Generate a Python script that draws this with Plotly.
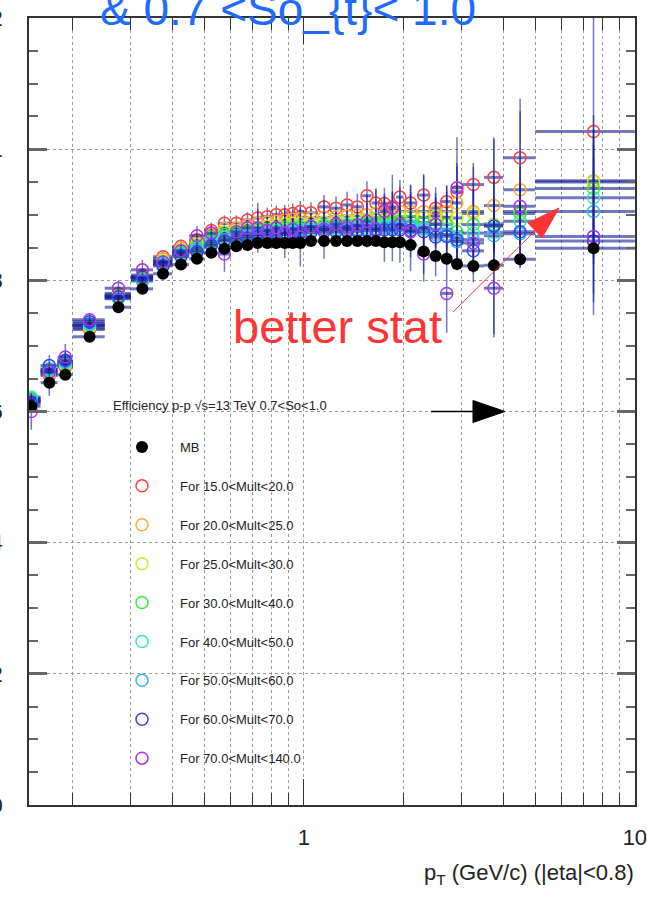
import plotly.graph_objects as go

# ---------------- data ----------------
pt_edges = [0.14, 0.16, 0.18, 0.20, 0.25, 0.30, 0.35, 0.40, 0.45, 0.50, 0.55, 0.60, 0.65,
            0.70, 0.75, 0.80, 0.85, 0.90, 0.95, 1.0, 1.1, 1.2, 1.3, 1.4, 1.5, 1.6, 1.7,
            1.8, 1.9, 2.0, 2.2, 2.4, 2.6, 2.8, 3.0, 3.5, 4.0, 5.0, 10.0]
x_tick_vals = [1, 10]
x_tick_text = ["1", "10"]

eff_mb = [0.608, 0.644, 0.656, 0.714, 0.759, 0.787, 0.810, 0.824, 0.833, 0.842, 0.848, 0.852,
          0.854, 0.857, 0.857, 0.857, 0.857, 0.857, 0.857, 0.860, 0.860, 0.860, 0.860, 0.860,
          0.860, 0.860, 0.858, 0.858, 0.858, 0.854, 0.844, 0.837, 0.833, 0.825, 0.822, 0.823,
          0.832, 0.849]
err_mb = [0.004, 0.004, 0.004, 0.003, 0.003, 0.003, 0.003, 0.003, 0.003, 0.003, 0.003, 0.003,
          0.003, 0.003, 0.003, 0.003, 0.003, 0.003, 0.003, 0.004, 0.004, 0.004, 0.004, 0.005,
          0.005, 0.005, 0.006, 0.006, 0.006, 0.006, 0.007, 0.008, 0.009, 0.010, 0.008, 0.010,
          0.012, 0.015]

eff_m15_20 = [0.615, 0.655, 0.668, 0.725, 0.780, 0.808, 0.836, 0.852, 0.862, 0.876, 0.887, 0.887,
              0.892, 0.895, 0.897, 0.900, 0.900, 0.902, 0.905, 0.903, 0.912, 0.910, 0.915, 0.912,
              0.929, 0.918, 0.917, 0.912, 0.927, 0.918, 0.930, 0.910, 0.920, 0.935, 0.946, 0.957,
              0.987, 1.027]
err_m15_20 = [0.010, 0.031, 0.010, 0.008, 0.008, 0.008, 0.008, 0.010, 0.010, 0.012, 0.012, 0.012,
              0.012, 0.014, 0.014, 0.014, 0.015, 0.015, 0.016, 0.016, 0.018, 0.018, 0.020, 0.020,
              0.022, 0.022, 0.024, 0.024, 0.026, 0.028, 0.030, 0.032, 0.024, 0.038, 0.033, 0.058,
              0.090, 0.280]

eff_m20_25 = [0.615, 0.657, 0.670, 0.727, 0.778, 0.806, 0.833, 0.849, 0.858, 0.870, 0.879, 0.880,
              0.884, 0.887, 0.889, 0.890, 0.892, 0.893, 0.894, 0.895, 0.896, 0.897, 0.898, 0.899,
              0.900, 0.902, 0.903, 0.901, 0.905, 0.905, 0.905, 0.905, 0.905, 0.918, 0.905, 0.914,
              0.938, 0.952]
err_m20_25 = [0.006, 0.006, 0.006, 0.006, 0.006, 0.006, 0.008, 0.008, 0.008, 0.010, 0.010, 0.010,
              0.010, 0.012, 0.012, 0.012, 0.012, 0.013, 0.013, 0.014, 0.015, 0.015, 0.016, 0.017,
              0.018, 0.037, 0.020, 0.020, 0.022, 0.024, 0.026, 0.028, 0.030, 0.100, 0.035, 0.040,
              0.120, 0.100]

eff_m25_30 = [0.618, 0.660, 0.672, 0.730, 0.776, 0.804, 0.830, 0.846, 0.855, 0.866, 0.874, 0.876,
              0.878, 0.881, 0.883, 0.884, 0.886, 0.887, 0.887, 0.888, 0.889, 0.890, 0.891, 0.892,
              0.893, 0.894, 0.895, 0.895, 0.896, 0.897, 0.896, 0.898, 0.896, 0.895, 0.902, 0.886,
              0.905, 0.950]
err_m25_30 = [0.006, 0.006, 0.006, 0.006, 0.006, 0.006, 0.008, 0.008, 0.008, 0.010, 0.010, 0.010,
              0.010, 0.012, 0.012, 0.012, 0.012, 0.013, 0.013, 0.014, 0.015, 0.015, 0.016, 0.017,
              0.018, 0.019, 0.020, 0.066, 0.022, 0.024, 0.026, 0.028, 0.030, 0.032, 0.035, 0.040,
              0.045, 0.080]

eff_m30_40 = [0.620, 0.664, 0.675, 0.732, 0.775, 0.803, 0.828, 0.843, 0.852, 0.862, 0.870, 0.872,
              0.874, 0.877, 0.878, 0.879, 0.881, 0.881, 0.882, 0.883, 0.884, 0.885, 0.885, 0.886,
              0.887, 0.888, 0.889, 0.888, 0.890, 0.890, 0.888, 0.886, 0.885, 0.874, 0.885, 0.883,
              0.902, 0.940]
err_m30_40 = [0.006, 0.006, 0.006, 0.006, 0.006, 0.006, 0.008, 0.008, 0.008, 0.010, 0.010, 0.010,
              0.010, 0.012, 0.012, 0.012, 0.012, 0.013, 0.013, 0.014, 0.015, 0.015, 0.016, 0.017,
              0.018, 0.019, 0.020, 0.020, 0.022, 0.055, 0.026, 0.028, 0.060, 0.032, 0.088, 0.040,
              0.045, 0.080]

eff_m40_50 = [0.622, 0.662, 0.673, 0.731, 0.773, 0.801, 0.826, 0.841, 0.849, 0.859, 0.866, 0.868,
              0.870, 0.873, 0.874, 0.876, 0.877, 0.878, 0.878, 0.879, 0.880, 0.880, 0.881, 0.882,
              0.882, 0.883, 0.883, 0.884, 0.884, 0.884, 0.880, 0.878, 0.878, 0.866, 0.872, 0.873,
              0.890, 0.926]
err_m40_50 = [0.006, 0.006, 0.006, 0.006, 0.006, 0.006, 0.008, 0.008, 0.008, 0.010, 0.010, 0.010,
              0.010, 0.012, 0.012, 0.012, 0.012, 0.013, 0.013, 0.014, 0.015, 0.015, 0.016, 0.017,
              0.018, 0.019, 0.020, 0.020, 0.022, 0.024, 0.082, 0.028, 0.030, 0.032, 0.035, 0.040,
              0.045, 0.080]

eff_m50_60 = [0.618, 0.665, 0.676, 0.734, 0.772, 0.799, 0.824, 0.839, 0.846, 0.856, 0.862, 0.865,
              0.867, 0.870, 0.871, 0.872, 0.873, 0.874, 0.875, 0.876, 0.877, 0.877, 0.878, 0.878,
              0.879, 0.879, 0.880, 0.880, 0.880, 0.880, 0.878, 0.870, 0.870, 0.859, 0.862, 0.868,
              0.871, 0.905]
err_m50_60 = [0.006, 0.006, 0.006, 0.006, 0.006, 0.006, 0.008, 0.008, 0.008, 0.010, 0.010, 0.010,
              0.010, 0.012, 0.012, 0.012, 0.012, 0.013, 0.013, 0.014, 0.015, 0.015, 0.016, 0.017,
              0.018, 0.019, 0.052, 0.020, 0.022, 0.024, 0.026, 0.028, 0.030, 0.032, 0.035, 0.150,
              0.045, 0.080]

eff_m60_70 = [0.612, 0.670, 0.678, 0.737, 0.775, 0.805, 0.822, 0.836, 0.843, 0.853, 0.860, 0.862,
              0.864, 0.867, 0.868, 0.869, 0.870, 0.871, 0.872, 0.873, 0.874, 0.874, 0.875, 0.875,
              0.876, 0.876, 0.877, 0.877, 0.877, 0.876, 0.874, 0.866, 0.867, 0.862, 0.845, 0.883,
              0.874, 0.860]
err_m60_70 = [0.006, 0.006, 0.025, 0.006, 0.006, 0.006, 0.008, 0.008, 0.008, 0.010, 0.010, 0.010,
              0.010, 0.012, 0.012, 0.012, 0.012, 0.013, 0.013, 0.014, 0.015, 0.015, 0.016, 0.017,
              0.018, 0.019, 0.020, 0.020, 0.022, 0.024, 0.026, 0.060, 0.030, 0.032, 0.035, 0.040,
              0.045, 0.080]

eff_m70_140 = [0.600, 0.660, 0.683, 0.740, 0.788, 0.816, 0.828, 0.845, 0.868, 0.872, 0.840, 0.874,
               0.880, 0.880, 0.876, 0.880, 0.872, 0.878, 0.866, 0.882, 0.878, 0.886, 0.880, 0.884,
               0.890, 0.878, 0.905, 0.910, 0.885, 0.874, 0.840, 0.885, 0.780, 0.941, 0.857, 0.788,
               0.913, 0.867]
err_m70_140 = [0.028, 0.010, 0.010, 0.010, 0.012, 0.015, 0.010, 0.010, 0.015, 0.012, 0.027, 0.012,
               0.012, 0.038, 0.014, 0.014, 0.038, 0.015, 0.045, 0.016, 0.045, 0.018, 0.020, 0.020,
               0.040, 0.022, 0.024, 0.024, 0.058, 0.060, 0.030, 0.032, 0.060, 0.038, 0.040, 0.075,
               0.060, 0.100]

series_names = ["For 15.0<Mult<20.0", "For 20.0<Mult<25.0", "For 25.0<Mult<30.0",
                "For 30.0<Mult<40.0", "For 40.0<Mult<50.0", "For 50.0<Mult<60.0",
                "For 60.0<Mult<70.0", "For 70.0<Mult<140.0"]
series_vals = [eff_m15_20, eff_m20_25, eff_m25_30, eff_m30_40, eff_m40_50, eff_m50_60,
               eff_m60_70, eff_m70_140]
series_errs = [err_m15_20, err_m20_25, err_m25_30, err_m30_40, err_m40_50, err_m50_60,
               err_m60_70, err_m70_140]
series_colors = ["#ff4040", "#ffaa33", "#c8ee30", "#33ee33", "#33eeaa", "#33bbee",
                 "#3344ee", "#aa33ee"]

# ---------------- style ----------------
SANS = "Liberation Sans, Arial, sans-serif"
ERRC = "rgba(20,30,150,0.6)"

W, H = 647, 901
ML, MR, MT, MB = 29, 12, 18, 96
PW, PH = W - ML - MR, H - MT - MB


def px(x):
    return (x - ML) / PW


def py(y):
    return (H - MB - y) / PH


centers = [(a + b) / 2 for a, b in zip(pt_edges[:-1], pt_edges[1:])]
halfw = [(b - a) / 2 for a, b in zip(pt_edges[:-1], pt_edges[1:])]

fig = go.Figure()

for k, (nm, vals, errs, col) in enumerate(zip(series_names, series_vals, series_errs, series_colors)):
    fig.add_trace(go.Scatter(
        x=centers, y=vals, mode="markers", name=nm, legendgroup=nm, legendrank=k + 2,
        marker=dict(symbol="circle-open", size=12, color=col, line=dict(width=1.5, color=col)),
        error_x=dict(type="data", array=halfw, color=ERRC, thickness=3, width=0),
        error_y=dict(type="data", array=errs, color=ERRC, thickness=1.5, width=0),
    ))

fig.add_trace(go.Scatter(
    x=centers, y=eff_mb, mode="markers", name="MB", legendgroup="MB", legendrank=1,
    marker=dict(symbol="circle", size=12, color="black"),
    error_x=dict(type="data", array=halfw, color=ERRC, thickness=3, width=0),
    error_y=dict(type="data", array=err_mb, color=ERRC, thickness=1.5, width=0),
))

fig.update_layout(
    width=W, height=H, template="none",
    margin=dict(l=ML, r=MR, t=MT, b=MB, pad=0),
    paper_bgcolor="white", plot_bgcolor="white",
    showlegend=True,
    legend=dict(x=px(104), y=py(432), xanchor="left", yanchor="top",
                bgcolor="rgba(0,0,0,0)", borderwidth=0, tracegroupgap=19, itemwidth=66,
                font=dict(family=SANS, size=13, color="#222")),
)

fig.update_xaxes(
    type="log", range=[-0.8309, 1.0004], tickmode="array", tickvals=x_tick_vals,
    ticktext=x_tick_text, automargin=False, ticklabeloverflow="allow",
    showline=True, linecolor="#333", linewidth=1.5, mirror="ticks",
    ticks="inside", ticklen=26, tickwidth=1, tickcolor="#333",
    showgrid=True, gridcolor="#999", griddash="dot", gridwidth=1,
    tickfont=dict(family=SANS, size=22, color="#222"), ticklabelstandoff=12,
    minor=dict(dtick="D1", ticks="inside", ticklen=12, tickwidth=1, tickcolor="#333",
               showgrid=True, gridcolor="#999", griddash="dot", gridwidth=1),
    zeroline=False,
)
fig.update_yaxes(
    range=[0, 1.2], dtick=0.2, automargin=False,
    showline=True, linecolor="#333", linewidth=1.5, mirror="ticks",
    ticks="inside", ticklen=18, tickwidth=3, tickcolor="#666",
    showgrid=True, gridcolor="#999", griddash="dot", gridwidth=1,
    tickfont=dict(family=SANS, size=22, color="#222"), ticklabelstandoff=20,
    minor=dict(dtick=0.05, ticks="inside", ticklen=9, tickwidth=2, tickcolor="#666",
               showgrid=False),
    zeroline=False,
)

annotations = [
    dict(text="& 0.7 <So_{t}< 1.0", x=px(98), y=py(9), xref="paper", yref="paper",
         xanchor="left", yanchor="middle", showarrow=False,
         font=dict(family=SANS, size=46, color="#1f6bff")),
    dict(text="better stat", x=px(231), y=py(326), xref="paper", yref="paper",
         xanchor="left", yanchor="middle", showarrow=False,
         font=dict(family=SANS, size=47, color="#ff3535")),
    dict(text="Efficiency p-p \u221as=13 TeV 0.7<So<1.0", x=px(111), y=py(405), xref="paper",
         yref="paper", xanchor="left", yanchor="middle", showarrow=False,
         font=dict(family=SANS, size=13, color="#222")),
    dict(text="p<sub>T</sub> (GeV/c) (|eta|<0.8)", x=px(636), y=py(874), xref="paper",
         yref="paper", xanchor="right", yanchor="middle", showarrow=False,
         font=dict(family=SANS, size=22, color="#222")),
]
fig.update_layout(annotations=annotations)


def tri(p1, p2, p3):
    return "M {:.5f},{:.5f} L {:.5f},{:.5f} L {:.5f},{:.5f} Z".format(
        px(p1[0]), py(p1[1]), px(p2[0]), py(p2[1]), px(p3[0]), py(p3[1]))


shapes = [
    # black arrow
    dict(type="line", xref="paper", yref="paper", x0=px(431), y0=py(411.5), x1=px(480),
         y1=py(411.5), line=dict(color="black", width=1.5)),
    dict(type="path", xref="paper", yref="paper", path=tri((473, 400.5), (473, 422.5), (505, 411.5)),
         fillcolor="black", line=dict(color="black", width=1)),
    # red arrow
    dict(type="line", xref="paper", yref="paper", x0=px(453), y0=py(312), x1=px(540),
         y1=py(226), line=dict(color="#ff3535", width=1)),
    dict(type="path", xref="paper", yref="paper", path=tri((559, 208), (528, 223), (542, 238)),
         fillcolor="#ff3535", line=dict(color="#ff3535", width=1)),
]
fig.update_layout(shapes=shapes)

fig.write_html("out.html")
